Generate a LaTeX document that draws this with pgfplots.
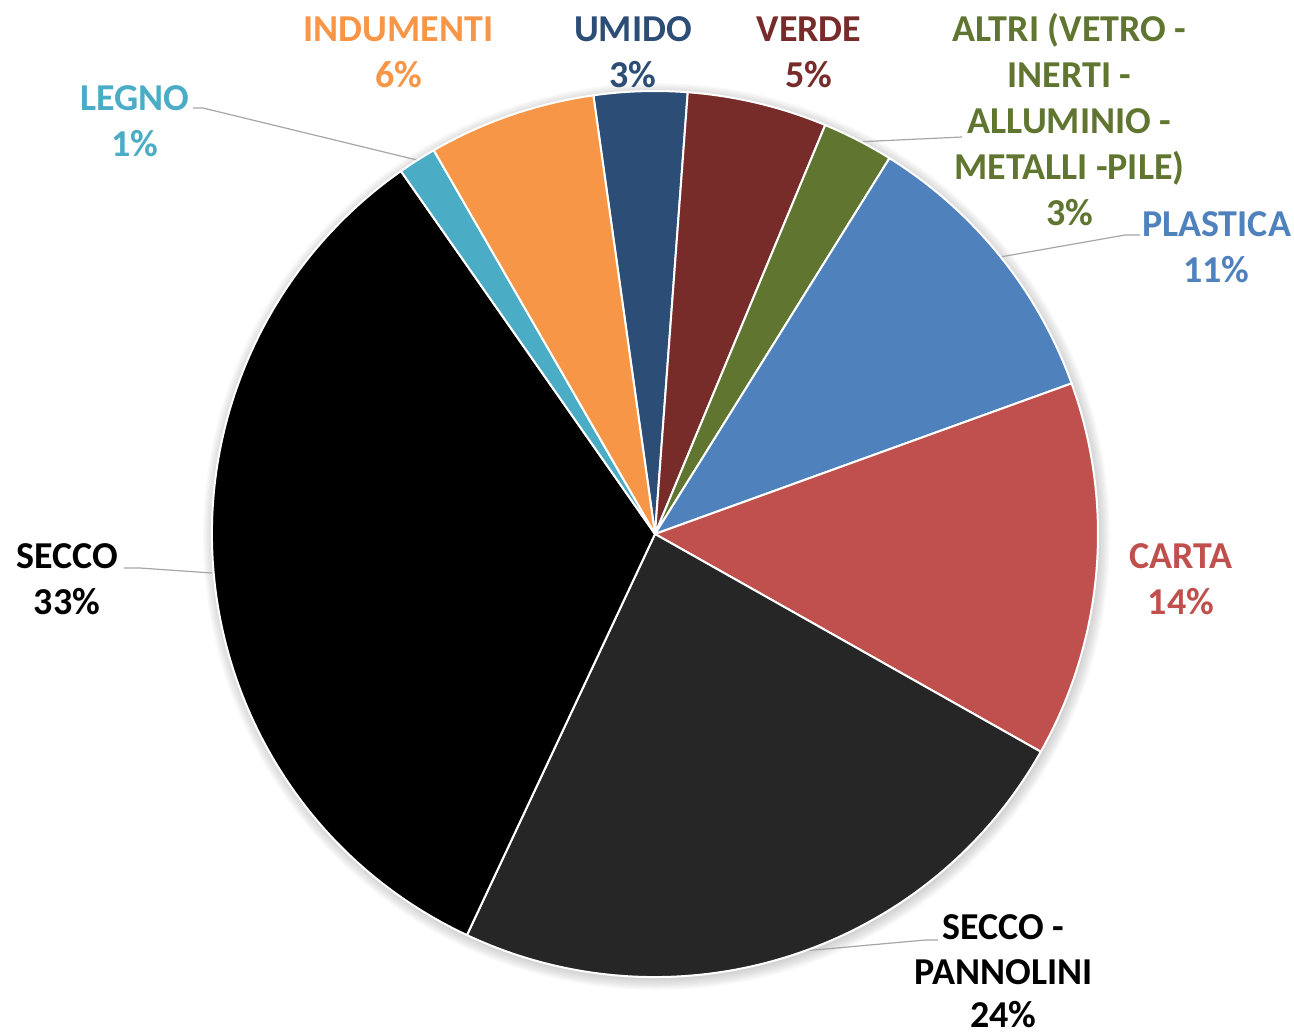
\documentclass[border=0pt]{standalone}
\usepackage{fontspec}
\setmainfont{Carlito}
\usepackage{pgfplots}
\usepackage{pgfplotstable}
\pgfplotsset{compat=1.18}

\definecolor{c0}{HTML}{2C4D75}% umido
\definecolor{c1}{HTML}{772C2A}% verde
\definecolor{c2}{HTML}{5F7530}% altri
\definecolor{c3}{HTML}{4F81BD}% plastica
\definecolor{c4}{HTML}{C0504D}% carta
\definecolor{c5}{HTML}{262626}% secco - pannolini
\definecolor{c6}{HTML}{000000}% secco
\definecolor{c7}{HTML}{4BACC6}% legno
\definecolor{c8}{HTML}{F79646}% indumenti
\definecolor{leader}{HTML}{A6A6A6}

% shares in percent, clockwise from the first slice
\pgfplotstableread{
name      value idx
Umido     3.4   0
Verde     5.1   1
Altri     2.6   2
Plastica  10.6  3
Carta     13.7  4
Pannolini 23.8  5
Secco     33.3  6
Legno     1.4   7
Indumenti 6.1   8
}\piedata
\pgfplotstablecreatecol[create col/expr accum={\pgfmathaccuma+\thisrow{value}}{0}]{cum}{\piedata}

\newcommand\labfont{\fontsize{19pt}{23pt}\selectfont\bfseries}
\newcommand\lab[4]{\node[anchor=base, text=#3, font=\labfont, inner sep=0pt] at (axis cs:#1,#2) {#4};}

\begin{document}
\begin{tikzpicture}
\begin{axis}[
    width=647pt, height=517.5pt, scale only axis,
    hide axis, clip=false,
    xmin=0, xmax=1294, ymin=0, ymax=1035, y dir=reverse,
]
% soft shadow under the pie
\pgfplotsinvokeforeach{0,...,7}{
  \fill[black, opacity=0.025] (axis cs:656.5,536.5) circle[radius=221.5pt+#1*0.75pt];
}

\addplot[scatter, only marks, mark=text, text mark={},
    point meta=\thisrow{value},
    visualization depends on={\thisrow{value}\as\val},
    visualization depends on={\thisrow{cum}\as\cum},
    visualization depends on={\thisrow{idx}\as\cidx},
    scatter/@pre marker code/.code={%
      \pgfmathsetmacro\sa{98-3.6*(\cum-\val)}%
      \pgfmathsetmacro\ea{98-3.6*\cum}%
      \pgfmathtruncatemacro\ci{\cidx}%
      \fill[fill=c\ci, draw=white, line width=1pt, line join=round]
        (0,0) -- (\sa:221.5pt) arc[start angle=\sa, end angle=\ea, radius=221.5pt] -- cycle;},
    scatter/@post marker code/.code={},
] table[x expr=655, y expr=534] {\piedata};

% leader lines
\draw[leader, line width=0.6pt] (axis cs:417,160) -- (axis cs:203,108) -- (axis cs:193,108);
\draw[leader, line width=0.6pt] (axis cs:855,142) -- (axis cs:962,137);
\draw[leader, line width=0.6pt] (axis cs:1000,257) -- (axis cs:1125,235) -- (axis cs:1140,235);
\draw[leader, line width=0.6pt] (axis cs:212,573) -- (axis cs:140,568) -- (axis cs:124,568);
\draw[leader, line width=0.6pt] (axis cs:792,952) -- (axis cs:925,940) -- (axis cs:938,940);

% labels
\lab{135}{110}{c7}{LEGNO}
\lab{134.5}{156}{c7}{1\%}
\lab{398.5}{41}{c8}{INDUMENTI}
\lab{398.5}{87}{c8}{6\%}
\lab{633}{41}{c0}{UMIDO}
\lab{633}{87}{c0}{3\%}
\lab{809}{41}{c1}{VERDE}
\lab{809}{87}{c1}{5\%}
\lab{1069.5}{41}{c2}{ALTRI (VETRO -}
\lab{1069.5}{87}{c2}{INERTI -}
\lab{1069.5}{133}{c2}{ALLUMINIO -}
\lab{1069.5}{179}{c2}{METALLI -PILE)}
\lab{1069.5}{225}{c2}{3\%}
\lab{1216.5}{236}{c3}{PLASTICA}
\lab{1216.5}{282}{c3}{11\%}
\lab{1181}{568}{c4}{CARTA}
\lab{1181}{614}{c4}{14\%}
\lab{67}{568}{black}{SECCO}
\lab{67}{614}{black}{33\%}
\lab{1003.5}{939}{black}{SECCO -}
\lab{1003.5}{984}{black}{PANNOLINI}
\lab{1003.5}{1027}{black}{24\%}
\end{axis}
\pgfresetboundingbox
\path (current axis.south west) rectangle (current axis.north east);
\end{tikzpicture}
\end{document}
